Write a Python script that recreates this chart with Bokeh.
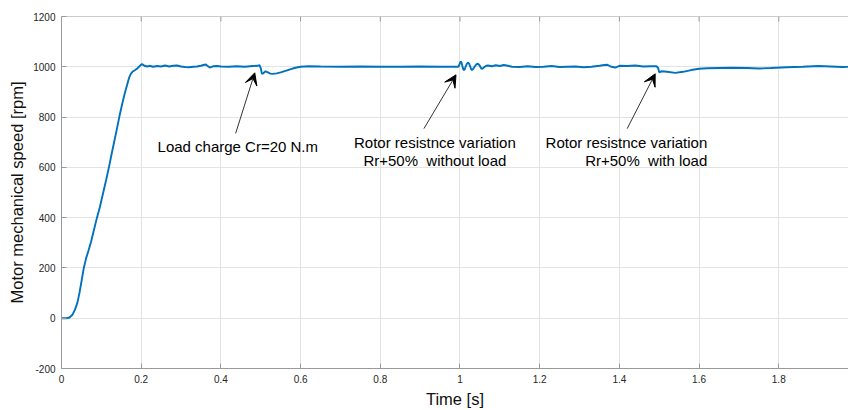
from bokeh.plotting import figure
from bokeh.models import Range1d, FixedTicker, Arrow, VeeHead, Span
from bokeh.core.properties import value
from bokeh.embed import file_html
from bokeh.resources import INLINE

# ---------------- data ----------------
time_s = [0.000, 0.012, 0.020, 0.028, 0.034, 0.040, 0.045, 0.050, 0.056, 0.062,
          0.068, 0.074, 0.080, 0.089, 0.096, 0.104, 0.112, 0.119, 0.126, 0.132,
          0.138, 0.145, 0.152, 0.158, 0.164, 0.170, 0.174, 0.178, 0.184, 0.190,
          0.195, 0.199, 0.203, 0.208, 0.215, 0.220, 0.230, 0.240, 0.250, 0.260,
          0.270, 0.280, 0.290, 0.300, 0.310, 0.320, 0.330, 0.340, 0.350, 0.356,
          0.362, 0.367, 0.372, 0.380, 0.390, 0.400, 0.420, 0.440, 0.460, 0.480,
          0.492, 0.497, 0.500, 0.503, 0.507, 0.512, 0.518, 0.524, 0.530, 0.540,
          0.550, 0.560, 0.570, 0.580, 0.590, 0.600, 0.620, 0.650, 0.700, 0.750,
          0.800, 0.850, 0.900, 0.950, 0.996, 0.998, 1.000, 1.002, 1.004, 1.006,
          1.008, 1.010, 1.012, 1.014, 1.017, 1.020, 1.023, 1.026, 1.028, 1.030,
          1.033, 1.037, 1.041, 1.045, 1.049, 1.053, 1.056, 1.060, 1.065, 1.070,
          1.080, 1.090, 1.100, 1.110, 1.120, 1.130, 1.150, 1.170, 1.190, 1.210,
          1.230, 1.250, 1.270, 1.290, 1.310, 1.330, 1.350, 1.362, 1.370, 1.380,
          1.390, 1.400, 1.420, 1.440, 1.460, 1.480, 1.493, 1.497, 1.500, 1.505,
          1.520, 1.540, 1.560, 1.580, 1.600, 1.620, 1.650, 1.680, 1.720, 1.750,
          1.780, 1.820, 1.860, 1.900, 1.930, 1.960, 1.980]
speed_rpm = [0, 0, 3, 15, 35, 62, 100, 145, 200, 240,
             270, 303, 342, 400, 440, 495, 550, 600, 655, 700,
             745, 800, 850, 890, 925, 958, 972, 980, 986, 993,
             1001, 1008, 1010, 1004, 1001, 1004, 1000, 1003, 1001, 1005,
             1001, 1004, 1005, 1001, 999, 998, 1000, 1001, 1004, 1007,
             1009, 1003, 997, 1002, 1003, 1001, 1000, 1002, 1000, 1003,
             1004, 1007, 995, 972, 975, 982, 978, 973, 972, 974,
             978, 983, 988, 993, 997, 1000, 1002, 1001, 1000, 1001,
             1000, 1000, 1001, 1000, 1000, 1006, 1016, 1021, 1016, 1003,
             991, 987, 990, 1000, 1011, 1017, 1012, 1000, 990, 987,
             991, 1001, 1010, 1013, 1006, 994, 992, 997, 1003, 1005,
             1002, 1006, 1003, 1007, 1004, 1000, 999, 1002, 999, 1000,
             1003, 999, 1000, 1001, 998, 1000, 1004, 1007, 1008, 1000,
             997, 1004, 1003, 1005, 1001, 1002, 1002, 996, 978, 982,
             980, 976, 980, 987, 992, 994, 995, 996, 995, 993,
             995, 998, 1000, 1003, 1001, 999, 1000]

x_ticks = [0, 0.2, 0.4, 0.6, 0.8, 1.0, 1.2, 1.4, 1.6, 1.8]
x_tick_labels = ["0", "0.2", "0.4", "0.6", "0.8", "1", "1.2", "1.4", "1.6", "1.8"]
y_ticks = [-200, 0, 200, 400, 600, 800, 1000, 1200]
y_tick_labels = ["-200", "0", "200", "400", "600", "800", "1000", "1200"]

FONT = "Liberation Sans"
AXC = "#9a9a9a"
TXT = "#262626"

p = figure(width=848, height=410, output_backend="svg", toolbar_location=None,
           x_range=Range1d(0, 1.975), y_range=Range1d(-200, 1200),
           min_border_left=61, min_border_right=0, min_border_top=16,
           min_border_bottom=41)
p.outline_line_color = None
p.background_fill_color = "white"

p.xgrid.ticker = FixedTicker(ticks=x_ticks)
p.ygrid.ticker = FixedTicker(ticks=y_ticks)
p.grid.grid_line_color = "#e3e3e3"
p.grid.grid_line_width = 1

p.line(time_s, speed_rpm, line_color="#0072BD", line_width=1.9)

# axes
for ax, ticks, labels in ((p.xaxis[0], x_ticks, x_tick_labels),
                          (p.yaxis[0], y_ticks, y_tick_labels)):
    ax.ticker = FixedTicker(ticks=ticks)
    ax.major_label_overrides = {t: l for t, l in zip(ticks, labels)}
    ax.minor_tick_line_color = None
    ax.major_tick_in = 5
    ax.major_tick_out = 0
    ax.axis_line_color = AXC
    ax.major_tick_line_color = AXC
    ax.major_label_text_font = FONT
    ax.major_label_text_font_size = "10px"
    ax.major_label_text_color = TXT
    ax.major_label_standoff = 6
    ax.axis_label_text_font = FONT
    ax.axis_label_text_font_size = "16.5px"
    ax.axis_label_text_font_style = "normal"
    ax.axis_label_text_color = "#111111"
    ax.axis_label_standoff = 4

p.xaxis.axis_label = "Time [s]"
p.yaxis.axis_label = "Motor mechanical speed [rpm]"

# top box edge with inward ticks (MATLAB "box on")
p.add_layout(Span(location=1200, dimension="width", line_color=AXC,
                  line_width=1))
p.segment(x0=x_ticks, y0=[1200] * len(x_ticks), x1=x_ticks,
          y1=[1180] * len(x_ticks), line_color=AXC, line_width=1)

# annotations
arrows = [((0.437, 735), (0.485, 976)),
          ((0.9095, 754), (0.990, 968)),
          ((1.4196, 754), (1.4899, 972))]
for (x0, y0), (x1, y1) in arrows:
    p.add_layout(Arrow(x_start=x0, y_start=y0, x_end=x1, y_end=y1,
                       line_color="#333333", line_width=1,
                       end=VeeHead(size=12, fill_color="black",
                                   line_color="black", line_width=1)))

p.text(x=[0.241], y=[683], text=["Load charge Cr=20 N.m"],
       text_font=value(FONT), text_font_size="15px", text_color="black",
       text_align="left", text_baseline="middle")
p.text(x=[0.937, 0.937], y=[700, 628],
       text=["Rotor resistnce variation", "Rr+50%\u00a0 without load"],
       text_font=value(FONT), text_font_size="15px", text_color="black",
       text_align="center", text_baseline="middle")
p.text(x=[1.6206, 1.6206], y=[700, 628],
       text=["Rotor resistnce variation", "Rr+50%\u00a0 with load"],
       text_font=value(FONT), text_font_size="15px", text_color="black",
       text_align="right", text_baseline="middle")

open("out.html", "w").write(file_html(p, INLINE))
